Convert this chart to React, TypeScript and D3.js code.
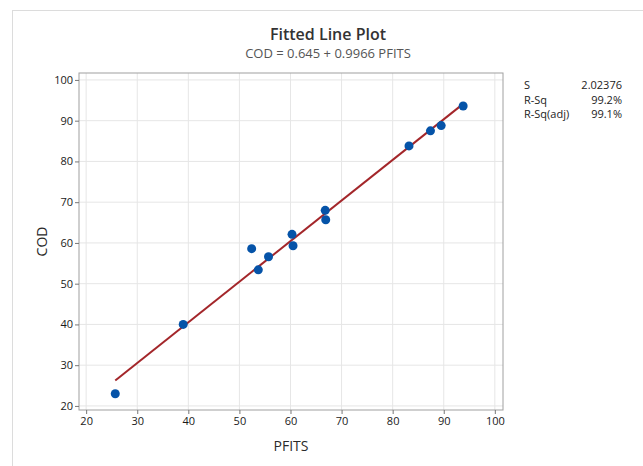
import React, { useEffect, useRef } from "react";
import * as d3 from "d3";

const pfits = [25.7, 39.0, 52.4, 53.7, 55.7, 60.3, 60.5, 66.8, 66.9, 83.2, 87.4, 89.5, 93.8];
const cod = [23.0, 40.0, 58.6, 53.4, 56.6, 62.1, 59.3, 68.0, 65.7, 83.8, 87.5, 88.8, 93.6];

// fitted line COD = b0 + b1 * PFITS
const intercept = 0.645;
const slope = 0.9966;

const xTicks = [20, 30, 40, 50, 60, 70, 80, 90, 100];
const yTicks = [20, 30, 40, 50, 60, 70, 80, 90, 100];

const statLabels = ["S", "R-Sq", "R-Sq(adj)"];
const statValues = ["2.02376", "99.2%", "99.1%"];

const FONT = "'Open Sans', 'Noto Sans', sans-serif";

export default function App() {
  const node = useRef<SVGSVGElement | null>(null);

  useEffect(() => {
    const svg = d3.select(node.current);
    svg.selectAll("*").remove();

    const left = 79, right = 503, top = 73, bottom = 410;

    const x = d3.scaleLinear().domain([18.6, 101.6]).range([left, right]);
    const y = d3.scaleLinear().domain([19.0, 101.7]).range([bottom, top]);

    // outer figure border
    svg.append("rect")
      .attr("x", 12.5).attr("y", 10.5)
      .attr("width", 700).attr("height", 500)
      .attr("fill", "none").attr("stroke", "#dcdcdc");

    // gridlines
    const grid = svg.append("g");
    grid.selectAll(".gx").data(xTicks).join("line")
      .attr("x1", d => x(d)).attr("x2", d => x(d))
      .attr("y1", top).attr("y2", bottom)
      .attr("stroke", "#e6e6e6");
    grid.selectAll(".gy").data(yTicks).join("line")
      .attr("x1", left).attr("x2", right)
      .attr("y1", d => y(d)).attr("y2", d => y(d))
      .attr("stroke", "#e6e6e6");

    // frame
    svg.append("rect")
      .attr("x", left).attr("y", top)
      .attr("width", right - left).attr("height", bottom - top)
      .attr("fill", "none").attr("stroke", "#a0a0a0");

    const xAxis = d3.axisBottom(x).tickValues(xTicks).tickSize(4).tickPadding(3);
    const yAxis = d3.axisLeft(y).tickValues(yTicks).tickSize(4).tickPadding(2);

    const styleAxis = (g: any) => {
      g.select(".domain").remove();
      g.selectAll(".tick line").attr("stroke", "#777");
      g.selectAll(".tick text")
        .attr("fill", "#1a1a1a")
        .style("font-family", FONT)
        .style("font-size", "11px");
    };

    svg.append("g").attr("transform", `translate(0,${bottom})`).call(xAxis).call(styleAxis);
    svg.append("g").attr("transform", `translate(${left},0)`).call(yAxis).call(styleAxis);

    // fitted line
    const xs = d3.extent(pfits) as [number, number];
    const line = d3.line<number>().x(d => x(d)).y(d => y(intercept + slope * d));
    svg.append("path")
      .datum(xs)
      .attr("d", line)
      .attr("fill", "none")
      .attr("stroke", "#a3262a")
      .attr("stroke-width", 2);

    // points
    svg.append("g").selectAll("circle")
      .data(pfits)
      .join("circle")
      .attr("cx", d => x(d))
      .attr("cy", (d, i) => y(cod[i]))
      .attr("r", 4.5)
      .attr("fill", "#0553a8");

    // titles
    svg.append("text")
      .attr("x", 328).attr("y", 40)
      .attr("text-anchor", "middle")
      .style("font-family", FONT).style("font-size", "16px").style("font-weight", 600)
      .attr("fill", "#333")
      .text("Fitted Line Plot");
    svg.append("text")
      .attr("x", 328).attr("y", 58)
      .attr("text-anchor", "middle")
      .style("font-family", FONT).style("font-size", "13px")
      .attr("fill", "#555")
      .text(`COD = ${intercept} + ${slope} PFITS`);

    // axis titles
    svg.append("text")
      .attr("x", (left + right) / 2).attr("y", 451)
      .attr("text-anchor", "middle")
      .style("font-family", FONT).style("font-size", "14px")
      .attr("fill", "#2a2a2a")
      .text("PFITS");
    svg.append("text")
      .attr("transform", `translate(47,${(top + bottom) / 2}) rotate(-90)`)
      .attr("text-anchor", "middle")
      .style("font-family", FONT).style("font-size", "14px")
      .attr("fill", "#2a2a2a")
      .text("COD");

    // summary table
    const stats = svg.append("g").style("font-family", FONT).style("font-size", "11px").attr("fill", "#222");
    stats.selectAll(".lab").data(statLabels).join("text")
      .attr("x", 524).attr("y", (d, i) => 89 + i * 14.5)
      .text(d => d);
    stats.selectAll(".val").data(statValues).join("text")
      .attr("x", 622).attr("y", (d, i) => 89 + i * 14.5)
      .attr("text-anchor", "end")
      .text(d => d);
  }, []);

  return (
    <svg ref={node} width={643} height={466}
      style={{ position: "absolute", left: 0, top: 0, background: "#fff" }} />
  );
}
